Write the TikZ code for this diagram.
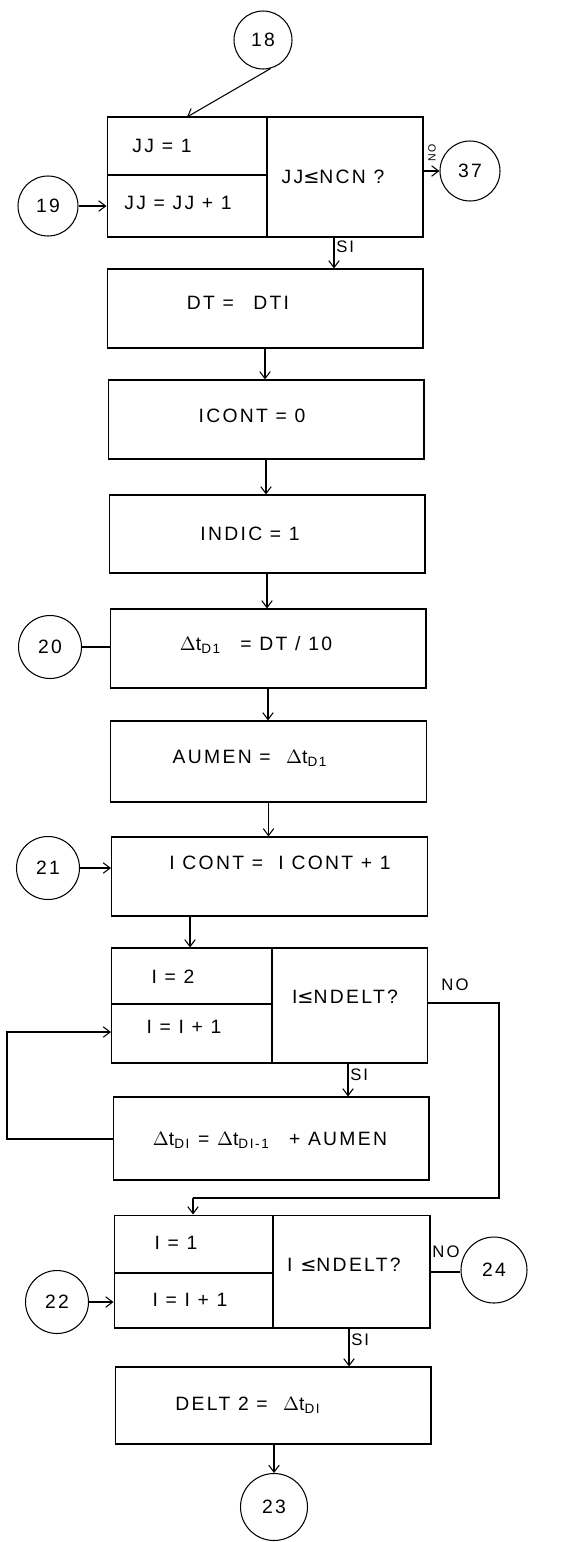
\documentclass[tikz,border=0pt]{standalone}
\usepackage{fontspec}
\setmainfont{Liberation Sans}[LetterSpace=12]
\newfontfamily\sym{DejaVu Sans}
\usetikzlibrary{arrows.meta}
\newcommand{\lee}{{\sym ≤}}
\begin{document}
\begin{tikzpicture}[x=0.02cm,y=-0.02cm,
  every node/.style={font=\fontsize{11}{13}\selectfont},
  box/.style={draw, line width=0.6pt, minimum width=6.32cm, inner sep=0pt},
  conn/.style={draw, circle, line width=0.6pt, minimum size=1.26cm, inner sep=0pt},
  arr/.style={line width=0.6pt, -{Straight Barb[length=4pt,width=6pt]}},
  ln/.style={line width=0.6pt},
  lbl/.style={font=\fontsize{9.5}{11}\selectfont, inner sep=1pt}]
\useasboundingbox (0,0) rectangle (571,1542);

% connectors (circles)
\node[conn, minimum size=1.16cm] (c18) at (263,40) {18};
\node[conn, minimum size=1.2cm] (c19) at (48,206) {19};
\node[conn, minimum size=1.2cm] (c37) at (470,171) {37};
\node[conn] (c20) at (50,647) {20};
\node[conn] (c21) at (48,868) {21};
\node[conn] (c22) at (57,1302) {22};
\node[conn, minimum size=1.32cm] (c24) at (494,1270) {24};
\node[conn, minimum size=1.34cm] (c23) at (274,1507) {23};

% boxes
\node[box, minimum height=2.4cm] (b1) at (265,177) {};
\draw[ln] (b1.north -| 267,0) -- (b1.south -| 267,0);
\draw[ln] (b1.west |- 0,175) -- (267,175);
\node (t1a) at (162,146) {JJ = 1};
\node (t1b) at (178,203) {JJ = JJ + 1};
\node (t1c) at (333,177) {JJ\lee NCN ?};

\node[box, minimum height=1.58cm] (dt) at (265,308.5) {};
\node (tdt) at (238,303) {DT =\quad DTI};

\node[box, minimum height=1.58cm] (ic0) at (266,419.5) {};
\node (tic0) at (252,416) {ICONT = 0};

\node[box, minimum height=1.56cm] (ind) at (267,534) {};
\node (tind) at (250,534) {INDIC = 1};

\node[box, minimum height=1.58cm] (d1) at (268,648.5) {};
\node (td1) at (256,645) {$\Delta$t\textsubscript{D1}\quad = DT / 10};

\node[box, minimum height=1.62cm] (aum) at (268.5,761.5) {};
\node (taum) at (250,758) {AUMEN = \ $\Delta$t\textsubscript{D1}};

\node[box, minimum height=1.58cm] (ic1) at (269.5,876.5) {};
\node (tic1) at (280,863) {I CONT = \ I CONT + 1};

\node[box, minimum height=2.3cm] (b2) at (269.5,1005.5) {};
\draw[ln] (b2.north -| 272,0) -- (b2.south -| 272,0);
\draw[ln] (b2.west |- 0,1004) -- (272,1004);
\node (t2a) at (173,977) {I = 2};
\node (t2b) at (184,1027) {I = I + 1};
\node (t2c) at (345,997) {I\lee NDELT?};

\node[box, minimum height=1.66cm] (dti) at (271,1138.5) {};
\node (tdti) at (270,1140) {$\Delta$t\textsubscript{DI} = $\Delta$t\textsubscript{DI-1}\quad + AUMEN};

\node[box, minimum height=2.26cm] (b3) at (272,1271.5) {};
\draw[ln] (b3.north -| 273,0) -- (b3.south -| 273,0);
\draw[ln] (b3.west |- 0,1273) -- (273,1273);
\node (t3a) at (176,1243) {I = 1};
\node (t3b) at (190,1300) {I = I + 1};
\node (t3c) at (344,1265) {I \lee NDELT?};

\node[box, minimum height=1.54cm] (del) at (273,1405.5) {};
\node (tdel) at (248,1405) {DELT 2 = \ $\Delta$t\textsubscript{DI}};

% named free ends
\coordinate (in1) at (187,117);
\coordinate (nocorner1) at (499,1003);
\coordinate (nocorner2) at (499,1198);
\coordinate (nocorner3) at (193,1198);
\coordinate (loop1) at (7,1139);
\coordinate (loop2) at (7,1032);

% flow
\draw[arr] (c18.-75) -- (in1);
\draw[arr] (c19.east) -- (c19.east -| b1.west);
\draw[arr] (b1.east |- c37) -- (c37.west);
\node[lbl, font=\fontsize{6}{7}\selectfont, rotate=90] (no1) at (432,153) {NO};
\draw[arr] (b1.south -| 334,0) -- (dt.north -| 334,0)
  node[lbl, pos=0.3, right] (si1) {SI};
\draw[arr] (dt.south) -- (dt.south |- ic0.north);
\draw[arr] (ic0.south) -- (ic0.south |- ind.north);
\draw[arr] (ind.south) -- (ind.south |- d1.north);
\draw[ln] (c20.east) -- (c20.east -| d1.west);
\draw[arr] (d1.south) -- (d1.south |- aum.north);
\draw[arr] (aum.south) -- (aum.south |- ic1.north);
\draw[arr] (c21.east) -- (c21.east -| ic1.west);
\draw[arr] (ic1.south -| 190,0) -- (b2.north -| 190,0);
\draw[ln] (b2.east |- nocorner1) -- (nocorner1) -- (nocorner2) -- (nocorner3);
\draw[arr] (nocorner3) -- (b3.north -| nocorner3);
\node[lbl] (no2) at (455,985) {NO};
\draw[arr] (b2.south -| 348,0) -- (dti.north -| 348,0)
  node[lbl, pos=0.35, right] (si2) {SI};
\draw[arr] (dti.west |- loop1) -- (loop1) -- (loop2) -- (b2.west |- loop2);
\draw[ln] (b3.east |- 0,1272) -- (c24.west |- 0,1272);
\node[lbl] (no3) at (446,1252) {NO};
\draw[arr] (c22.east) -- (c22.east -| b3.west);
\draw[arr] (b3.south -| 349,0) -- (del.north -| 349,0)
  node[lbl, pos=0.3, right] (si3) {SI};
\draw[arr] (del.south -| 274,0) -- (c23.north);
\end{tikzpicture}
\end{document}
